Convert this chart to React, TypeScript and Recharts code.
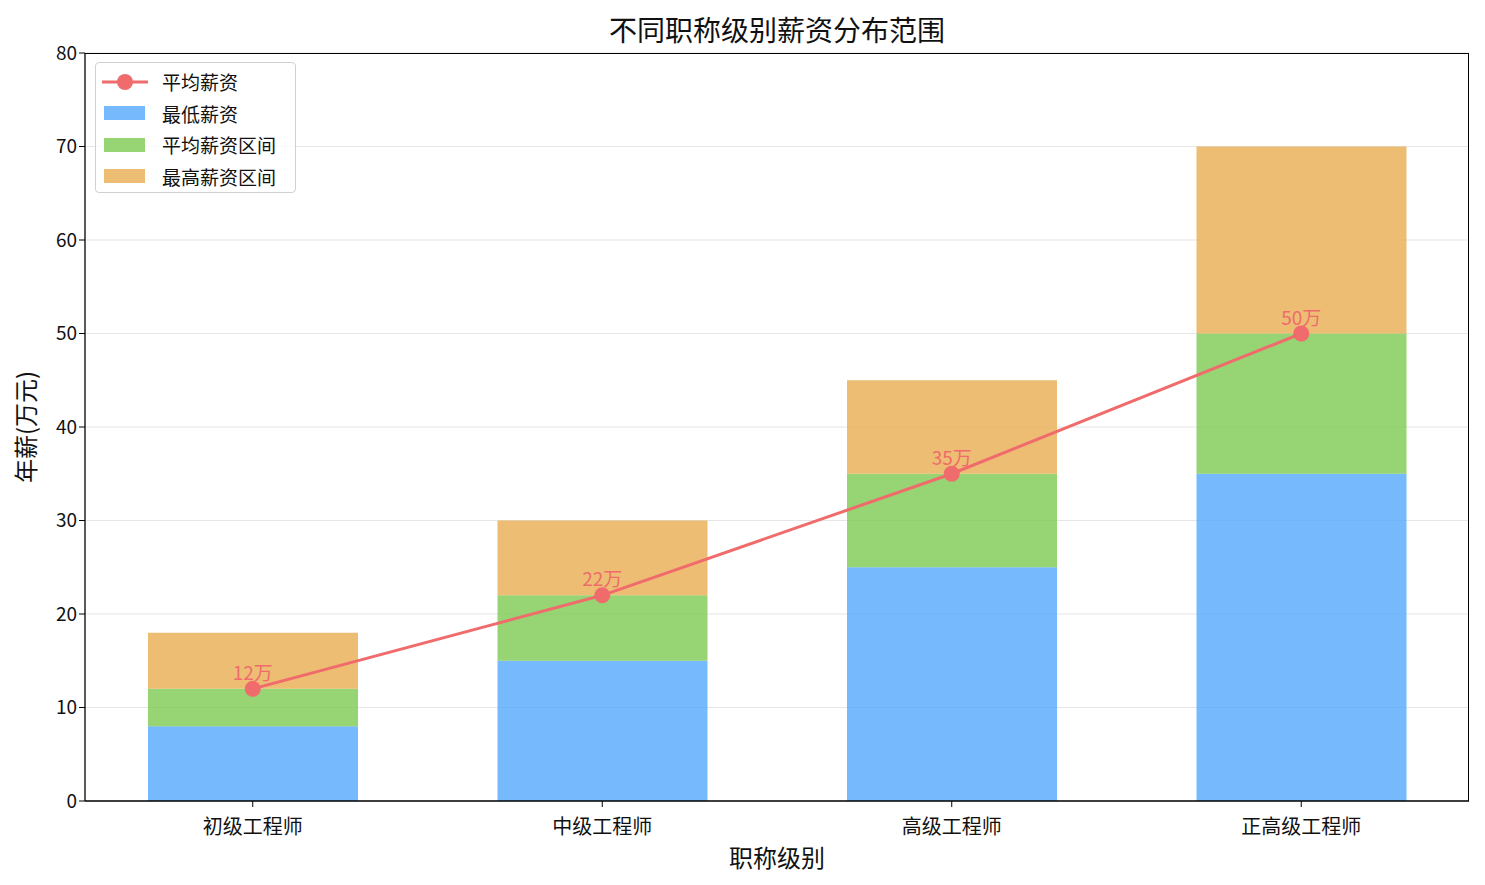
import React from 'react';
import {
  ComposedChart,
  Bar,
  Line,
  LabelList,
  XAxis,
  YAxis,
  CartesianGrid,
} from 'recharts';

const categories = ['初级工程师', '中级工程师', '高级工程师', '正高级工程师'];
const minSalary = [8, 15, 25, 35];
const avgSalary = [12, 22, 35, 50];
const maxSalary = [18, 30, 45, 70];
const yTicks = [0, 10, 20, 30, 40, 50, 60, 70, 80];

const FONT = '"Noto Sans CJK SC", "Noto Sans", sans-serif';
const C_MIN = '#54a7fb';
const C_AVG = '#7dc950';
const C_MAX = '#e8ac51';
const C_LINE = '#f06b6b';

// plot area (matplotlib axes box)
const PLOT = { left: 85, top: 53, right: 1469, bottom: 801 };

const rows = categories.map((name, i) => ({
  idx: i,
  name,
  min: minSalary[i],
  avgRange: avgSalary[i] - minSalary[i],
  maxRange: maxSalary[i] - avgSalary[i],
  avg: avgSalary[i],
}));

function LegendBox() {
  const items = [
    { label: '平均薪资', kind: 'line', color: C_LINE },
    { label: '最低薪资', kind: 'bar', color: C_MIN },
    { label: '平均薪资区间', kind: 'bar', color: C_AVG },
    { label: '最高薪资区间', kind: 'bar', color: C_MAX },
  ];
  return (
    <div
      style={{
        position: 'absolute',
        left: 95,
        top: 62,
        width: 201,
        height: 131,
        boxSizing: 'border-box',
        border: '1.5px solid #d0d0d0',
        borderRadius: 4,
        background: 'rgba(255,255,255,0.8)',
        padding: '3px 0 0 6px',
        fontFamily: FONT,
        fontSize: 19,
        color: '#111',
      }}
    >
      {items.map((it) => (
        <div key={it.label} style={{ display: 'flex', alignItems: 'center', height: 31.5 }}>
          <svg width={46} height={22} style={{ marginRight: 14, flex: 'none' }}>
            {it.kind === 'line' ? (
              <g>
                <line x1={0} y1={11} x2={46} y2={11} stroke={it.color} strokeWidth={3} />
                <circle cx={23} cy={11} r={8} fill={it.color} />
              </g>
            ) : (
              <rect x={2} y={4} width={41} height={14} fill={it.color} fillOpacity={0.8} />
            )}
          </svg>
          <span>{it.label}</span>
        </div>
      ))}
    </div>
  );
}

export default function App() {
  return (
    <div style={{ position: 'absolute', left: 0, top: 0, width: 1485, height: 885, background: '#fff' }}>
      <div
        style={{
          position: 'absolute',
          left: PLOT.left,
          width: PLOT.right - PLOT.left,
          top: 10,
          textAlign: 'center',
          fontFamily: FONT,
          fontSize: 28,
          lineHeight: '38px',
          color: '#111',
        }}
      >
        不同职称级别薪资分布范围
      </div>
      <ComposedChart
        width={1485}
        height={885}
        data={rows}
        margin={{ top: PLOT.top, right: 1485 - PLOT.right, bottom: 24, left: 0 }}
        style={{ fontFamily: FONT }}
      >
        <CartesianGrid horizontal vertical={false} stroke="#e6e6e6" strokeWidth={1.2} />
        <XAxis
          type="number"
          dataKey="idx"
          domain={[-0.48, 3.48]}
          ticks={[0, 1, 2, 3]}
          tickFormatter={(v) => categories[v] ?? ''}
          height={60}
          tickLine={{ stroke: '#000' }}
          tickSize={6}
          axisLine={{ stroke: '#000', strokeWidth: 1.3 }}
          tick={{ fontSize: 20, fill: '#111', dy: 11 }}
          allowDataOverflow
          label={{ value: '职称级别', position: 'insideBottom', offset: -6, fontSize: 24, fill: '#111' }}
        />
        <YAxis
          domain={[0, 80]}
          ticks={yTicks}
          width={PLOT.left}
          tickSize={6}
          tickLine={{ stroke: '#000' }}
          axisLine={{ stroke: '#000', strokeWidth: 1.3 }}
          tick={{ fontSize: 19, fill: '#111' }}
          label={{
            value: '年薪(万元)',
            angle: -90,
            position: 'insideLeft',
            offset: 26,
            fontSize: 24,
            fill: '#111',
            textAnchor: 'middle',
          }}
        />
        <Bar dataKey="min" stackId="s" barSize={210} fill={C_MIN} fillOpacity={0.8} isAnimationActive={false} />
        <Bar dataKey="avgRange" stackId="s" barSize={210} fill={C_AVG} fillOpacity={0.8} isAnimationActive={false} />
        <Bar dataKey="maxRange" stackId="s" barSize={210} fill={C_MAX} fillOpacity={0.8} isAnimationActive={false} />
        <Line
          dataKey="avg"
          stroke={C_LINE}
          strokeWidth={3}
          dot={{ r: 8, fill: C_LINE, stroke: C_LINE, strokeWidth: 0 }}
          activeDot={false}
          isAnimationActive={false}
        >
          <LabelList
            dataKey="avg"
            position="top"
            offset={9}
            formatter={(v: number) => `${v}万`}
            style={{ fontSize: 19, fill: C_LINE }}
          />
        </Line>
      </ComposedChart>
      <div
        style={{
          position: 'absolute',
          left: PLOT.left,
          top: PLOT.top,
          width: PLOT.right - PLOT.left,
          height: PLOT.bottom - PLOT.top,
          boxSizing: 'border-box',
          border: '1.3px solid #000',
          borderLeft: 'none',
          borderBottom: 'none',
          pointerEvents: 'none',
        }}
      />
      <LegendBox />
    </div>
  );
}
